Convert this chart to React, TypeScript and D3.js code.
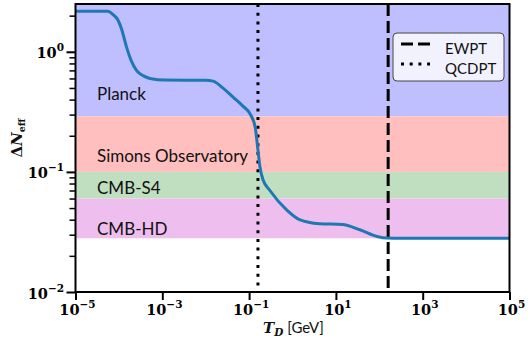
import React, { useEffect, useRef } from 'react';
import * as d3 from 'd3';

// decoupling temperature (GeV) vs Delta N_eff
const tempGeV = [1e-5, 3.67e-5, 5.6e-5, 7.3e-5, 9.5e-5, 1.17e-4, 1.5e-4, 1.9e-4, 2.54e-4, 3.6e-4, 5.2e-4, 1.15e-3, 1e-2, 1.48e-2, 2.51e-2, 4.27e-2, 7.2e-2, 0.106, 0.138, 0.16, 0.178, 0.209, 0.302, 0.741, 1.45, 4.17, 14.1, 35.5, 89, 151, 316, 1e5];
const deltaNeff = [2.18, 2.18, 2.18, 2.04, 1.84, 1.52, 1.094, 0.853, 0.7, 0.633, 0.6, 0.581, 0.58, 0.57, 0.498, 0.419, 0.353, 0.303, 0.236, 0.152, 0.11, 0.086, 0.07, 0.048, 0.04, 0.037, 0.0365, 0.033, 0.029, 0.0281, 0.028, 0.028];

const bandNames = ['Planck', 'Simons Observatory', 'CMB-S4', 'CMB-HD'];
const bandLow = [0.29, 0.1, 0.06, 0.028];
const bandHigh = [2.5, 0.29, 0.1, 0.06];
const bandColors = ['#bfbfff', '#ffbfbf', '#c0dfc0', '#eebfee'];

const transitionNames = ['EWPT', 'QCDPT'];
const transitionTemps = [160, 0.16];
const transitionDash = ['12,5', '3,5.7'];

const xTicks = [1e-5, 1e-3, 1e-1, 1e1, 1e3, 1e5];
const yTicks = [1e-2, 1e-1, 1];

const W = 532, H = 338;
const left = 75.5, right = 509.5, top = 4, bottom = 292;

function Chart() {
    const svgRef = useRef<SVGSVGElement>(null);

    useEffect(() => {
        const svg = d3.select(svgRef.current);
        svg.selectAll('*').remove();

        const x = d3.scaleLog().domain([1e-5, 1e5]).range([left, right]);
        const y = d3.scaleLog().domain([0.01, 2.5]).range([bottom, top]);

        // experiment bands
        svg.selectAll('.band')
            .data(bandNames)
            .join('rect')
            .attr('x', left)
            .attr('width', right - left)
            .attr('y', (d, i) => y(bandHigh[i]))
            .attr('height', (d, i) => y(bandLow[i]) - y(bandHigh[i]))
            .attr('fill', (d, i) => bandColors[i]);

        // label baselines (in data units)
        const labelAt = [0.396, 0.121, 0.065, 0.03];
        svg.selectAll('.bandLabel')
            .data(bandNames)
            .join('text')
            .attr('x', 97)
            .attr('y', (d, i) => y(labelAt[i]))
            .attr('font-family', 'Lato, sans-serif')
            .attr('font-size', 17)
            .attr('fill', '#111')
            .text(d => d);

        // phase transitions
        svg.selectAll('.transition')
            .data(transitionTemps)
            .join('line')
            .attr('x1', d => x(d))
            .attr('x2', d => x(d))
            .attr('y1', top)
            .attr('y2', bottom)
            .attr('stroke', 'black')
            .attr('stroke-width', 3)
            .attr('stroke-dasharray', (d, i) => transitionDash[i]);

        const line = d3.line<number>()
            .x((d, i) => x(tempGeV[i]))
            .y(d => y(d))
            .curve(d3.curveMonotoneX);

        svg.append('path')
            .datum(deltaNeff)
            .attr('d', line)
            .attr('fill', 'none')
            .attr('stroke', '#1f77b4')
            .attr('stroke-width', 3);

        // legend
        const lg = svg.append('g').attr('transform', 'translate(393,33)');
        lg.append('rect')
            .attr('width', 111).attr('height', 48).attr('rx', 4)
            .attr('fill', 'rgba(255,255,255,0.8)')
            .attr('stroke', '#444').attr('stroke-width', 1);
        transitionNames.forEach((name, i) => {
            lg.append('line')
                .attr('x1', 8).attr('x2', 37)
                .attr('y1', 11 + i * 20).attr('y2', 11 + i * 20)
                .attr('stroke', 'black').attr('stroke-width', 3)
                .attr('stroke-dasharray', transitionDash[i]);
            lg.append('text')
                .attr('x', 52).attr('y', 21 + i * 20)
                .attr('font-family', 'Lato, sans-serif')
                .attr('font-size', 15)
                .attr('fill', '#111')
                .text(name);
        });

        // frame
        svg.append('rect')
            .attr('x', left).attr('y', top)
            .attr('width', right - left).attr('height', bottom - top)
            .attr('fill', 'none').attr('stroke', 'black').attr('stroke-width', 2);

        // x axis
        const xAxis = d3.axisBottom(x).tickValues(xTicks).tickSize(8).tickFormat(() => '');
        const gx = svg.append('g').attr('transform', `translate(0,${bottom})`).call(xAxis);
        gx.select('.domain').remove();
        gx.selectAll('line').attr('stroke-width', 2);

        const minor = y.ticks().filter(v => !yTicks.includes(v));
        const yMinor = d3.axisLeft(y).tickValues(minor).tickSize(6).tickFormat(() => '');
        const gym = svg.append('g').attr('transform', `translate(${left},0)`).call(yMinor);
        gym.select('.domain').remove();
        gym.selectAll('line').attr('stroke-width', 1.5);

        const yAxis = d3.axisLeft(y).tickValues(yTicks).tickSize(9).tickFormat(() => '');
        const gy = svg.append('g').attr('transform', `translate(${left},0)`).call(yAxis);
        gy.select('.domain').remove();
        gy.selectAll('line').attr('stroke-width', 2);

        const power = (sel, v: number) => {
            const e = Math.round(Math.log10(v));
            sel.append('tspan').text('10');
            sel.append('tspan')
                .attr('dy', -7)
                .attr('font-size', 10.5)
                .text(String(e).replace('-', '\u2212'));
        };

        xTicks.forEach(v => {
            const t = svg.append('text')
                .attr('x', x(v) + 2)
                .attr('y', 315)
                .attr('text-anchor', 'middle')
                .attr('font-family', '"DejaVu Serif", serif')
                .attr('font-weight', 'bold')
                .attr('font-size', 14.5);
            power(t, v);
        });
        yTicks.forEach(v => {
            const t = svg.append('text')
                .attr('x', 64)
                .attr('y', y(v) + 6.5)
                .attr('text-anchor', 'end')
                .attr('font-family', '"DejaVu Serif", serif')
                .attr('font-weight', 'bold')
                .attr('font-size', 14.5);
            power(t, v);
        });

        // axis titles
        const xt = svg.append('text')
            .attr('x', (left + right) / 2 + 1)
            .attr('y', 333)
            .attr('text-anchor', 'middle')
            .attr('fill', '#111');
        xt.append('tspan')
            .attr('font-family', '"DejaVu Serif", serif')
            .attr('font-style', 'italic').attr('font-weight', 'bold')
            .attr('font-size', 15).text('T');
        xt.append('tspan')
            .attr('font-family', '"DejaVu Serif", serif')
            .attr('font-style', 'italic').attr('font-weight', 'bold')
            .attr('font-size', 10.5).attr('dy', 3).text('D');
        xt.append('tspan')
            .attr('font-family', 'Lato, sans-serif')
            .attr('font-size', 15).attr('dy', -3).text(' [GeV]');

        const yt = svg.append('text')
            .attr('transform', 'translate(22,138) rotate(-90)')
            .attr('text-anchor', 'middle')
            .attr('font-family', '"DejaVu Serif", serif')
            .attr('font-weight', 'bold')
            .attr('fill', '#111');
        yt.append('tspan').attr('font-size', 15).text('\u0394');
        yt.append('tspan').attr('font-size', 15).attr('font-style', 'italic').text('N');
        yt.append('tspan').attr('font-size', 9.5).attr('dy', 3).text('eff');
    }, []);

    return (
        <svg ref={svgRef} width={W} height={H}
            style={{ position: 'absolute', left: 0, top: 0, background: 'white' }} />
    );
}

export default function App() {
    return <Chart />;
}
